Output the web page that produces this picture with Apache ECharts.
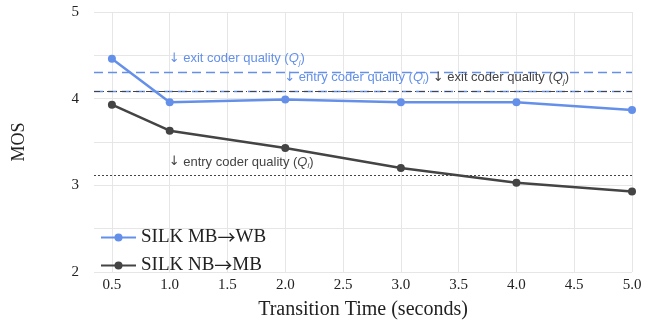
<!DOCTYPE html>
<html>
<head>
<meta charset="utf-8">
<script src="https://cdn.jsdelivr.net/npm/echarts@6/dist/echarts.min.js"></script>
<style>
    html, body { margin: 0; padding: 0; background: #fff; }
    #chart_id { width: 658px; height: 325px; }
</style>
</head>
<body>
<div id="chart_id"></div>
<script>
//横轴：过渡时间
var times = [0.5, 1.0, 2.0, 3.0, 4.0, 5.0];
var xTicks = [0.5, 1.0, 1.5, 2.0, 2.5, 3.0, 3.5, 4.0, 4.5, 5.0];
//两条曲线
var mbWb = [4.46, 3.96, 3.99, 3.96, 3.96, 3.87];
var nbMb = [3.93, 3.63, 3.43, 3.20, 3.03, 2.93];
//参考线
var mbWbExit = 4.31;
var mbWbEntry = 4.09;
var nbMbExit = 4.09;
var nbMbEntry = 3.12;

var BLUE = '#6490ea';
var DARK = '#444444';

function pairs(values) {
    var out = [];
    for (var i = 0, lens = values.length; i < lens; i++) {
        out[i] = [times[i], values[i]];
    }
    return out;
}

function qLabel(color) {
    return {
        a: { color: color, fontSize: 13, fontFamily: 'DejaVu Sans' },
        t: { color: color, fontSize: 13, fontFamily: 'Liberation Sans' },
        q: { color: color, fontSize: 13, fontFamily: 'Liberation Sans', fontStyle: 'italic' },
        s: { color: color, fontSize: 8, fontFamily: 'Liberation Sans', fontStyle: 'italic', verticalAlign: 'bottom', padding: [7, 0, 0, 0] }
    };
}

var blueRich = qLabel(BLUE);
var darkRich = qLabel(DARK);
var rich = {
    ba: blueRich.a, bt: blueRich.t, bq: blueRich.q, bs: blueRich.s,
    da: darkRich.a, dt: darkRich.t, dq: darkRich.q, ds: darkRich.s
};

function note(x, y, text) {
    return {
        coord: [x, y],
        symbol: 'circle',
        symbolSize: 0,
        label: {
            show: true,
            position: 'right',
            distance: 0,
            offset: [-1, -13],
            formatter: text,
            rich: rich
        }
    };
}

var myChart = echarts.init(document.getElementById('chart_id'));
var option = {
    animation: false,
    grid: { left: 94, right: 26, top: 12, bottom: 53 },
    legend: {
        orient: 'vertical',
        left: 100,
        top: 228,
        padding: 0,
        itemWidth: 35,
        itemHeight: 10,
        itemGap: 9,
        formatter: function (name) {
            var parts = name.split('\u2192');
            return '{n|' + parts[0] + '}{r|\u2192}{n|' + parts[1] + '}';
        },
        textStyle: {
            fontFamily: 'Liberation Serif', fontSize: 19, color: '#222',
            rich: {
                n: { fontFamily: 'Liberation Serif', fontSize: 19, color: '#222' },
                r: { fontFamily: 'Noto Sans CJK JP', fontSize: 18, color: '#222' }
            }
        },
        data: ['SILK MB\u2192WB', 'SILK NB\u2192MB']
    },
    xAxis: {
        type: 'value',
        min: 0.345,
        max: 5.0,
        name: 'Transition Time (seconds)',
        nameLocation: 'middle',
        nameGap: 28,
        nameTextStyle: { fontFamily: 'Liberation Serif', fontSize: 20, color: '#222' },
        axisLine: { show: false },
        axisTick: { show: false, customValues: xTicks },
        axisLabel: {
            customValues: xTicks,
            fontFamily: 'Liberation Serif', fontSize: 15, color: '#222', margin: 6,
            formatter: function (v) { return v.toFixed(1); }
        },
        splitLine: { show: true, lineStyle: { color: '#e6e6e6', width: 1 } }
    },
    yAxis: {
        type: 'value',
        min: 2,
        max: 5,
        interval: 0.5,
        name: 'MOS',
        nameLocation: 'middle',
        nameGap: 66,
        nameRotate: 90,
        nameTextStyle: { fontFamily: 'Liberation Serif', fontSize: 18, color: '#222' },
        axisLine: { show: false },
        axisTick: { show: false },
        axisLabel: {
            fontFamily: 'Liberation Serif', fontSize: 15, color: '#222', margin: 15,
            formatter: function (v) { return v % 1 === 0 ? String(v) : ''; }
        },
        splitLine: { show: true, lineStyle: { color: '#e6e6e6', width: 1 } }
    },
    series: [
        {
            name: 'SILK MB\u2192WB',
            type: 'line',
            data: pairs(mbWb),
            symbol: 'circle',
            symbolSize: 8,
            z: 5,
            lineStyle: { color: BLUE, width: 2.5 },
            itemStyle: { color: BLUE },
            markLine: {
                silent: true,
                symbol: 'none',
                label: { show: false },
                data: [
                    { yAxis: mbWbExit, lineStyle: { color: BLUE, type: [9, 5], width: 1.3 } },
                    { yAxis: mbWbEntry, lineStyle: { color: BLUE, type: [9, 5], width: 1.3 } }
                ]
            },
            markPoint: {
                silent: true,
                data: [
                    note(1.0, mbWbExit, '{ba|\u2193}{bt| exit coder quality (}{bq|Q}{bs|j}{bt|)}'),
                    note(2.0, mbWbEntry, '{ba|\u2193}{bt| entry coder quality (}{bq|Q}{bs|i}{bt|) }{da|\u2193}{dt| exit coder quality (}{dq|Q}{ds|j}{dt|)}')
                ]
            }
        },
        {
            name: 'SILK NB\u2192MB',
            type: 'line',
            data: pairs(nbMb),
            symbol: 'circle',
            symbolSize: 8,
            z: 4,
            lineStyle: { color: DARK, width: 2.5 },
            itemStyle: { color: DARK },
            markLine: {
                silent: true,
                symbol: 'none',
                label: { show: false },
                data: [
                    { yAxis: nbMbExit, lineStyle: { color: DARK, type: [6, 3, 1, 3], width: 1 } },
                    { yAxis: nbMbEntry, lineStyle: { color: DARK, type: [2, 2], width: 1.2 } }
                ]
            },
            markPoint: {
                silent: true,
                data: [
                    note(1.0, nbMbEntry, '{da|\u2193}{dt| entry coder quality (}{dq|Q}{ds|i}{dt|)}')
                ]
            }
        }
    ]
};
myChart.setOption(option, true);
</script>
</body>
</html>
